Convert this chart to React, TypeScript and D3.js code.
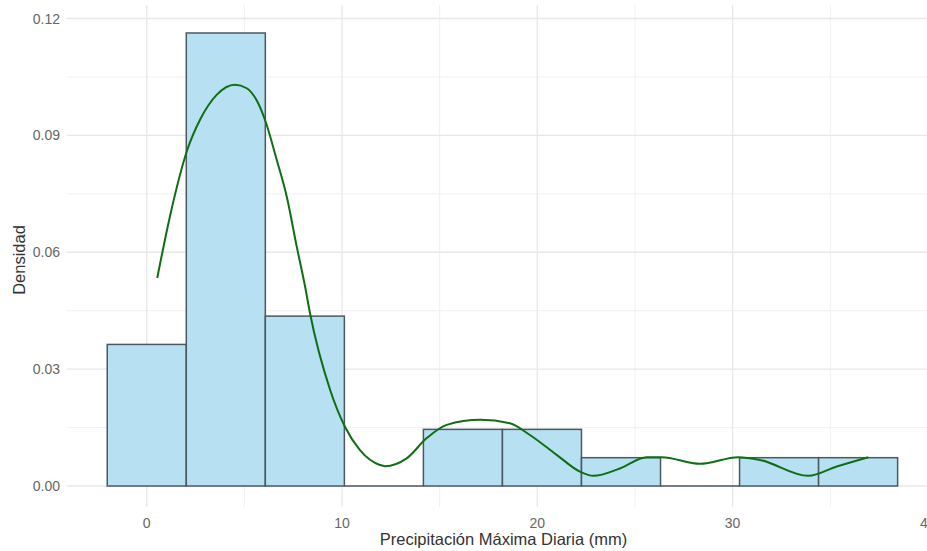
import React from "react";
import * as d3 from "d3";

const binStart = -2.02;
const binWidth = 4.047;
const binCounts = [5, 16, 6, 0, 2, 2, 1, 0, 1, 1];
const nObs = 34;

const densityX = [0.54, 1.19, 2.08, 2.73, 3.58, 4.52, 5.12, 5.63, 6.09, 6.66, 7.17, 7.68, 8.11, 8.36, 9.39, 10.15, 10.92, 11.94, 12.2, 13.31, 14.34, 15.36, 17.07, 18.6, 19.62, 20.99, 22.18, 22.87, 24.23, 25.6, 26.37, 28.33, 30.29, 31.4, 33.88, 35.33, 36.95];
const densityY = [0.0534, 0.0692, 0.0863, 0.094, 0.1004, 0.103, 0.1021, 0.0990, 0.0935, 0.0837, 0.0743, 0.0615, 0.0512, 0.0444, 0.0247, 0.0152, 0.0092, 0.0054, 0.0051, 0.0071, 0.0123, 0.0157, 0.017, 0.0161, 0.0131, 0.008, 0.0037, 0.0026, 0.0045, 0.0074, 0.0074, 0.0057, 0.0074, 0.0067, 0.0026, 0.005, 0.0074];

const xTicks = [0, 10, 20, 30, 40];
const xMinor = [5, 15, 25, 35];
const yTicks = [0, 0.03, 0.06, 0.09, 0.12];
const yMinor = [0.015, 0.045, 0.075, 0.105];

const W = 927;
const H = 551;
const panel = { left: 67, right: 940, top: 5, bottom: 507 };

export default function App() {
  const x = d3.scaleLinear().domain([0, 20]).range([146.7, 537.3]);
  const y = d3.scaleLinear().domain([0, 0.12]).range([486, 18.5]);
  const font = "'Liberation Sans', Arial, sans-serif";

  const bins = binCounts.map((c, i) => ({
    x0: binStart + i * binWidth,
    x1: binStart + (i + 1) * binWidth,
    d: c / (nObs * binWidth),
  }));

  const pts: [number, number][] = densityX.map((v, i) => [v, densityY[i]]);
  const line = d3
    .line<[number, number]>()
    .x((d) => x(d[0]))
    .y((d) => y(d[1]))
    .curve(d3.curveMonotoneX);

  return (
    <svg
      width={W}
      height={H}
      style={{ position: "absolute", left: 0, top: 0, display: "block", background: "#fff" }}
    >
      <defs>
        <clipPath id="clipPanel">
          <rect x={panel.left} y={panel.top} width={panel.right - panel.left} height={panel.bottom - panel.top} />
        </clipPath>
      </defs>
      <g clipPath="url(#clipPanel)">
        {yMinor.map((t) => (
          <line key={"ym" + t} x1={panel.left} x2={panel.right} y1={y(t)} y2={y(t)} stroke="#f0f0f0" strokeWidth={1} />
        ))}
        {xMinor.map((t) => (
          <line key={"xm" + t} x1={x(t)} x2={x(t)} y1={panel.top} y2={panel.bottom} stroke="#f0f0f0" strokeWidth={1} />
        ))}
        {yTicks.map((t) => (
          <line key={"yg" + t} x1={panel.left} x2={panel.right} y1={y(t)} y2={y(t)} stroke="#e8e8e8" strokeWidth={1.3} />
        ))}
        {xTicks.map((t) => (
          <line key={"xg" + t} x1={x(t)} x2={x(t)} y1={panel.top} y2={panel.bottom} stroke="#e8e8e8" strokeWidth={1.3} />
        ))}
        {bins.map((b, i) =>
          b.d > 0 ? (
            <rect
              key={"b" + i}
              x={x(b.x0)}
              y={y(b.d)}
              width={x(b.x1) - x(b.x0)}
              height={y(0) - y(b.d)}
              fill="#b7e1f2"
              stroke="#4c5860"
              strokeWidth={1.5}
            />
          ) : (
            <line key={"b" + i} x1={x(b.x0)} x2={x(b.x1)} y1={y(0)} y2={y(0)} stroke="#4c5860" strokeWidth={1.5} />
          )
        )}
        <path d={line(pts) || ""} fill="none" stroke="#0f6e14" strokeWidth={2} />
      </g>
      {yTicks.map((t) => (
        <text key={"yl" + t} x={60} y={y(t)} dy="0.36em" textAnchor="end" fontFamily={font} fontSize={14} fill="#666">
          {t.toFixed(2)}
        </text>
      ))}
      {xTicks.map((t) => (
        <text key={"xl" + t} x={x(t)} y={523} dy="0.36em" textAnchor="middle" fontFamily={font} fontSize={14} fill="#666">
          {t}
        </text>
      ))}
      <text x={503.5} y={545} textAnchor="middle" fontFamily={font} fontSize={16.5} fill="#333">
        Precipitación Máxima Diaria (mm)
      </text>
      <text
        transform="translate(25,260) rotate(-90)"
        textAnchor="middle"
        fontFamily={font}
        fontSize={16.5}
        fill="#333"
      >
        Densidad
      </text>
    </svg>
  );
}
